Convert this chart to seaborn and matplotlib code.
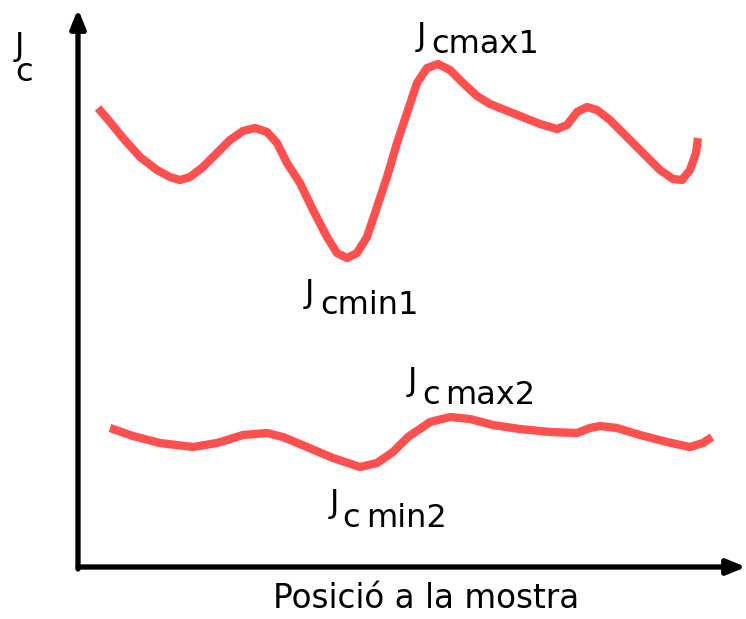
import matplotlib
matplotlib.use("Agg")
import matplotlib.pyplot as plt
import seaborn as sns
import pandas as pd

sns.set_style("white")
plt.rcParams['font.family'] = ['DejaVu Sans']
plt.rcParams['text.color'] = 'black'

# Curve 1 (upper) (pixel-like units, y downward)
x1 = [98, 110, 123, 140, 157, 170, 180, 190, 203, 217, 230, 243, 255, 267, 277, 287,
      300, 313, 327, 337, 347, 357, 367, 377, 387, 397, 407, 417, 427, 438, 450, 463,
      477, 490, 500, 520, 540, 557, 567, 577, 587, 597, 610, 627, 643, 660, 673, 682,
      690, 696, 698]
y1 = [108, 122, 138, 157, 170, 177, 180, 177, 167, 153, 140, 131, 128, 132, 143, 163,
      183, 210, 237, 253, 258, 253, 237, 207, 177, 143, 113, 83, 68, 64, 70, 83,
      96, 104, 108, 116, 124, 129, 125, 112, 107, 110, 120, 137, 153, 170, 179, 180,
      170, 153, 138]
# Curve 2 (lower)
x2 = [110, 133, 160, 193, 217, 243, 267, 283, 307, 333, 360, 377, 393, 408, 430, 450,
      470, 493, 520, 550, 577, 590, 600, 617, 640, 667, 690, 703, 712]
y2 = [428, 436, 443, 447, 443, 435, 433, 437, 447, 458, 467, 463, 452, 437, 422, 417,
      419, 425, 429, 432, 433, 428, 426, 428, 435, 442, 447, 443, 437]

xlabel = "Posició a la mostra"

df1 = pd.DataFrame({"x": x1, "y": y1})
df2 = pd.DataFrame({"x": x2, "y": y2})

fig = plt.figure(figsize=(7.46, 6.19), dpi=100)
ax = fig.add_axes([0, 0, 1, 1])
ax.set_xlim(0, 746)
ax.set_ylim(619, 0)
ax.axis("off")

red = "#FF5050"
for d in (df1, df2):
    sns.lineplot(data=d, x="x", y="y", sort=False, estimator=None, ax=ax,
                 color=red, linewidth=6.0, solid_capstyle="butt", solid_joinstyle="round")

# axes with arrows
ax.annotate("", xy=(78, 9), xytext=(78, 569),
            arrowprops=dict(arrowstyle="-|>,head_length=1.1,head_width=0.45", color="black", lw=3.8,
                            shrinkA=0, shrinkB=0))
ax.annotate("", xy=(746, 567), xytext=(78, 567),
            arrowprops=dict(arrowstyle="-|>,head_length=1.1,head_width=0.45", color="black", lw=3.8,
                            shrinkA=0, shrinkB=0))

fs = 23
def txt(x, y, s):
    ax.text(x, y, s, fontsize=fs, ha="left", va="baseline", color="black")

ax.text(15, 81, "J\nc", fontsize=fs, ha="left", va="baseline", color="black",
        linespacing=0.8, multialignment="left")
txt(417, 45, "J"); txt(431, 53, "cmax1")
txt(305, 302, "J"); txt(320, 314, "cmin1")
txt(408, 390, "J"); txt(422, 404, "c"); txt(445, 404, "max2")
txt(330, 512, "J"); txt(342, 527, "c"); txt(366, 527, "min2")

ax.text(426, 608, xlabel, fontsize=23.5, ha="center", va="baseline", color="black")

fig.savefig("out.png", dpi=100)
